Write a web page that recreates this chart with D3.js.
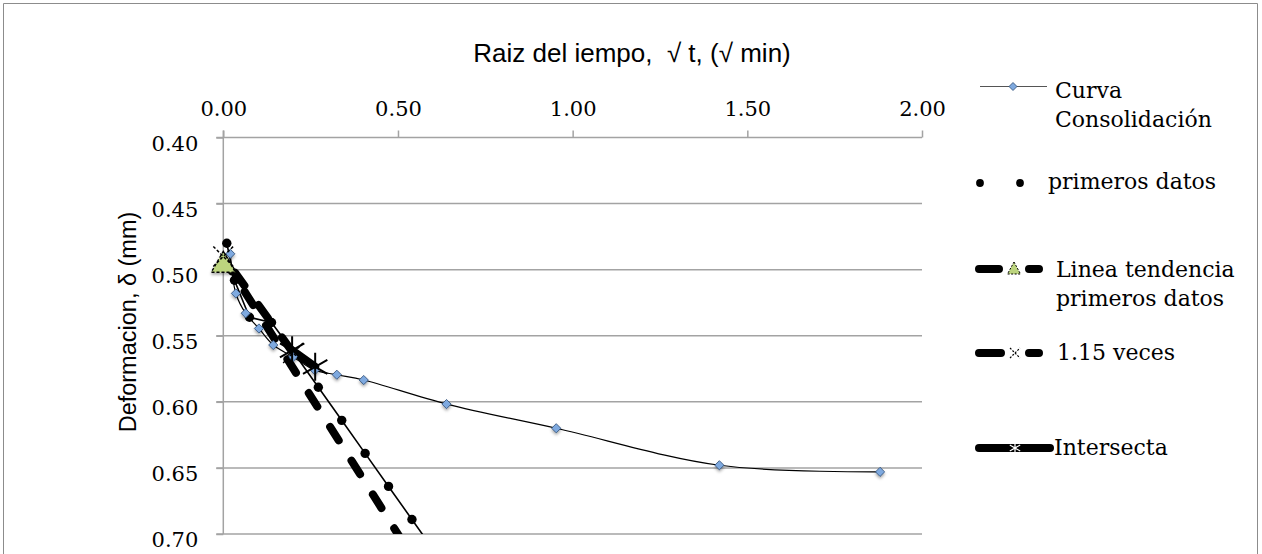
<!DOCTYPE html>
<html>
<head>
<meta charset="utf-8">
<script src="https://cdn.jsdelivr.net/npm/d3@7"></script>
<style>
  html, body { margin: 0; padding: 0; background: #fff; }
  svg { display: block; }
  text { white-space: pre; }
</style>
</head>
<body>
<script>
// ---- data ----
const xTickValues = [0.00, 0.50, 1.00, 1.50, 2.00];
const yTickValues = [0.40, 0.45, 0.50, 0.55, 0.60, 0.65, 0.70];

// consolidation curve: square root of time vs deformation
const curvaX = [0.020, 0.036, 0.064, 0.102, 0.143, 0.200, 0.262, 0.325, 0.402, 0.639, 0.953, 1.420, 1.880];
const curvaY = [0.488, 0.518, 0.533, 0.5445, 0.557, 0.566, 0.576, 0.5795, 0.5835, 0.6017, 0.620, 0.648, 0.653];

// first readings and their straight-line continuation
const primerosX = [0.010, 0.032, 0.075, 0.138, 0.205, 0.272, 0.339, 0.406, 0.473, 0.540, 0.607];
const primerosY = [0.480, 0.508, 0.536, 0.540, 0.564, 0.589, 0.614, 0.639, 0.664, 0.689, 0.714];

// trend line through the first readings
const tendenciaX = [0.000, 0.600];
const tendenciaY = [0.491, 0.742];

// line with abscissas 1.15 times the trend line
const vecesX = [0.000, 0.200];
const vecesY = [0.490, 0.563];

// intersection with the curve
const intersectaX = [0.197, 0.263];
const intersectaY = [0.561, 0.5735];

const xTitle = "Raiz del iempo,  \u221A t, (\u221A min)";
const yTitle = "Deformacion, \u03B4 (mm)";
const legendNames = ["Curva Consolidación", "primeros datos", "Linea tendencia primeros datos", "1.15 veces", "Intersecta"];

// ---- layout ----
const W = 1262, H = 554;
const plot = { left: 223.3, right: 922, top: 137.5, bottom: 534 };
const serif = "'DejaVu Serif', serif";
const sans = "'Liberation Sans', Arial, sans-serif";
const gridColor = "#a3a3a3";

const svg = d3.select("body").append("svg")
  .attr("width", W).attr("height", H)
  .attr("viewBox", `0 0 ${W} ${H}`);

const defs = svg.append("defs");
defs.append("clipPath").attr("id", "plotClip")
  .append("rect")
  .attr("x", plot.left).attr("y", plot.top)
  .attr("width", plot.right - plot.left).attr("height", plot.bottom - plot.top);
const shadow = defs.append("filter").attr("id", "mshadow")
  .attr("x", "-50%").attr("y", "-50%").attr("width", "200%").attr("height", "200%");
shadow.append("feDropShadow")
  .attr("dx", 0).attr("dy", 2).attr("stdDeviation", 1.6)
  .attr("flood-color", "#000").attr("flood-opacity", 0.35);

// outer chart frame (left, top, right)
svg.append("path")
  .attr("d", `M3.5,${H}V3.5H${W - 4.5}V${H}`)
  .attr("fill", "none").attr("stroke", "#8c8c8c").attr("stroke-width", 1);

const x = d3.scaleLinear().domain([0, 2]).range([plot.left, plot.right]);
const y = d3.scaleLinear().domain([0.40, 0.70]).range([plot.top, plot.bottom]);

// horizontal gridlines
svg.append("g")
  .selectAll("line")
  .data(yTickValues.slice(1))
  .join("line")
  .attr("x1", plot.left - 7).attr("x2", plot.right)
  .attr("y1", d => y(d)).attr("y2", d => y(d))
  .attr("stroke", gridColor).attr("stroke-width", 1.5);

// top x axis
const xAxis = svg.append("g")
  .attr("transform", `translate(0,${plot.top})`)
  .call(d3.axisTop(x).tickValues(xTickValues).tickFormat(d3.format(".2f")).tickSizeInner(7).tickSizeOuter(0));
xAxis.select(".domain").attr("stroke", gridColor).attr("stroke-width", 1.5)
  .attr("d", `M${plot.left - 7},0H${plot.right}`);
xAxis.selectAll(".tick line").attr("stroke", gridColor).attr("stroke-width", 1.5);
xAxis.selectAll(".tick text")
  .attr("font-family", serif).attr("font-size", 21).attr("fill", "#000")
  .attr("y", -21.5).attr("dy", 0);

// left y axis
const yAxis = svg.append("g")
  .attr("transform", `translate(${plot.left},0)`)
  .call(d3.axisLeft(y).tickValues(yTickValues).tickFormat(d3.format(".2f")).tickSizeInner(7).tickSizeOuter(0));
yAxis.select(".domain").attr("stroke", gridColor).attr("stroke-width", 1.5)
  .attr("d", `M0,${plot.top - 7}V${plot.bottom}`);
yAxis.selectAll(".tick line").attr("stroke", gridColor).attr("stroke-width", 1.5);
yAxis.selectAll(".tick text")
  .attr("font-family", serif).attr("font-size", 21).attr("fill", "#000")
  .attr("x", -25).attr("dy", "0.6em");

// axis titles
svg.append("text")
  .attr("x", 632).attr("y", 62)
  .attr("text-anchor", "middle")
  .attr("font-family", sans).attr("font-size", 26)
  .text(xTitle);
svg.append("text")
  .attr("transform", `translate(136,322) rotate(-90)`)
  .attr("text-anchor", "middle")
  .attr("font-family", sans).attr("font-size", 23.5)
  .text(yTitle);

const zip = (xs, ys) => xs.map((v, i) => [v, ys[i]]);
const inDomain = d => d[0] >= 0 && d[0] <= 2 && d[1] >= 0.40 && d[1] <= 0.70;
const line = d3.line().x(d => x(d[0])).y(d => y(d[1]));

const lines = svg.append("g").attr("clip-path", "url(#plotClip)");
const markers = svg.append("g");

// marker shapes
const diamondPath = s => `M0,${-s}L${s},0L0,${s}L${-s},0Z`;
const trianglePath = (w, h) => `M0,${-h / 2}L${w / 2},${h / 2}L${-w / 2},${h / 2}Z`;
const crossPath = s => `M${-s},${-s}L${s},${s}M${-s},${s}L${s},${-s}`;
const starPath = s => {
  const a = s * 0.87, b = s * 0.5;
  return `M0,${-s}L0,${s}M${-a},${-b}L${a},${b}M${-a},${b}L${a},${-b}`;
};

// trend line (thick dashed)
const tendencia = zip(tendenciaX, tendenciaY);
lines.append("path").datum(tendencia)
  .attr("d", line).attr("fill", "none")
  .attr("stroke", "#000").attr("stroke-width", 8)
  .attr("stroke-linecap", "round").attr("stroke-dasharray", "16 24");

// 1.15 times line (thick dashed)
const veces = zip(vecesX, vecesY);
lines.append("path").datum(veces)
  .attr("d", line).attr("fill", "none")
  .attr("stroke", "#000").attr("stroke-width", 8)
  .attr("stroke-linecap", "round").attr("stroke-dasharray", "16 24")
  .attr("stroke-dashoffset", -20);

// intersection segment (thick solid)
const intersecta = zip(intersectaX, intersectaY);
lines.append("path").datum(intersecta)
  .attr("d", line).attr("fill", "none")
  .attr("stroke", "#000").attr("stroke-width", 8).attr("stroke-linecap", "round");

// first readings (thin line with dots)
const primeros = zip(primerosX, primerosY);
lines.append("path").datum(primeros)
  .attr("d", line).attr("fill", "none")
  .attr("stroke", "#000").attr("stroke-width", 1.6);
markers.selectAll("circle.prim")
  .data(primeros.filter(inDomain))
  .join("circle").attr("class", "prim")
  .attr("cx", d => x(d[0])).attr("cy", d => y(d[1])).attr("r", 4.7)
  .attr("fill", "#000");

// consolidation curve (smoothed thin line with diamonds)
const curva = zip(curvaX, curvaY);
lines.append("path").datum(curva)
  .attr("d", d3.line().x(d => x(d[0])).y(d => y(d[1])).curve(d3.curveCatmullRom.alpha(0.5)))
  .attr("fill", "none").attr("stroke", "#000").attr("stroke-width", 1.2);
markers.selectAll("path.curva")
  .data(curva.filter(inDomain))
  .join("path").attr("class", "curva")
  .attr("transform", d => `translate(${x(d[0])},${y(d[1])})`)
  .attr("d", diamondPath(4.6))
  .attr("fill", "#7ea9df").attr("stroke", "#2b4a73").attr("stroke-width", 0.8)
  .attr("filter", "url(#mshadow)");

// trend line start marker (triangle)
markers.selectAll("path.tri")
  .data(tendencia.filter(inDomain))
  .join("path").attr("class", "tri")
  .attr("transform", d => `translate(${x(d[0])},${y(d[1]) + 4})`)
  .attr("d", trianglePath(24, 21))
  .attr("fill", "#bcd47e").attr("stroke", "#000").attr("stroke-width", 1.3)
  .attr("stroke-dasharray", "3 2")
  .attr("filter", "url(#mshadow)");

// 1.15 line markers (dashed cross)
markers.selectAll("path.cross")
  .data(veces.filter(inDomain))
  .join("path").attr("class", "cross")
  .attr("transform", d => `translate(${x(d[0])},${y(d[1])})`)
  .attr("d", crossPath(10))
  .attr("fill", "none").attr("stroke", "#000").attr("stroke-width", 1.5)
  .attr("stroke-dasharray", "3 2");

// intersection markers (stars)
markers.selectAll("path.star")
  .data(intersecta.filter(inDomain))
  .join("path").attr("class", "star")
  .attr("transform", d => `translate(${x(d[0])},${y(d[1])})`)
  .attr("d", starPath(14))
  .attr("fill", "none").attr("stroke", "#000").attr("stroke-width", 2);

// ---- legend ----
const lg = svg.append("g");
const legendText = (tx, cy, lines_) => {
  const t = lg.append("text")
    .attr("font-family", serif).attr("font-size", 22).attr("fill", "#000");
  lines_.forEach((s, i) => {
    t.append("tspan").attr("x", tx).attr("y", cy + i * 29 + 8).text(s);
  });
};
const thick = pathD => lg.append("path").attr("d", pathD)
  .attr("fill", "none").attr("stroke", "#000").attr("stroke-width", 8)
  .attr("stroke-linecap", "round");

// Curva Consolidación
lg.append("line").attr("x1", 980).attr("x2", 1047).attr("y1", 86.5).attr("y2", 86.5)
  .attr("stroke", "#555").attr("stroke-width", 1.2);
lg.append("path").attr("transform", "translate(1013,86.5)").attr("d", diamondPath(4))
  .attr("fill", "#7ea9df").attr("stroke", "#2b4a73").attr("stroke-width", 0.8);
legendText(1055, 90, ["Curva", "Consolidación"]);

// primeros datos
[980, 1020].forEach(cx => lg.append("circle").attr("cx", cx).attr("cy", 183).attr("r", 3.9).attr("fill", "#000"));
legendText(1048, 181, ["primeros datos"]);

// Linea tendencia primeros datos
thick("M979,269H999M1029,269H1039");
lg.append("path").attr("transform", "translate(1014,268)").attr("d", trianglePath(13, 12))
  .attr("fill", "#bcd47e").attr("stroke", "#000").attr("stroke-width", 1).attr("stroke-dasharray", "2 1.5");
legendText(1056, 269, ["Linea tendencia", "primeros datos"]);

// 1.15 veces
thick("M979,353H1001M1029,353H1039");
lg.append("path").attr("transform", "translate(1015,353)").attr("d", crossPath(5))
  .attr("fill", "none").attr("stroke", "#000").attr("stroke-width", 1.2).attr("stroke-dasharray", "2 1.5");
legendText(1057, 352, ["1.15 veces"]);

// Intersecta
thick("M979,448H1050");
lg.append("path").attr("transform", "translate(1015,448)").attr("d", starPath(6))
  .attr("fill", "none").attr("stroke", "#fff").attr("stroke-width", 1.2);
legendText(1054, 447, ["Intersecta"]);
</script>
</body>
</html>
